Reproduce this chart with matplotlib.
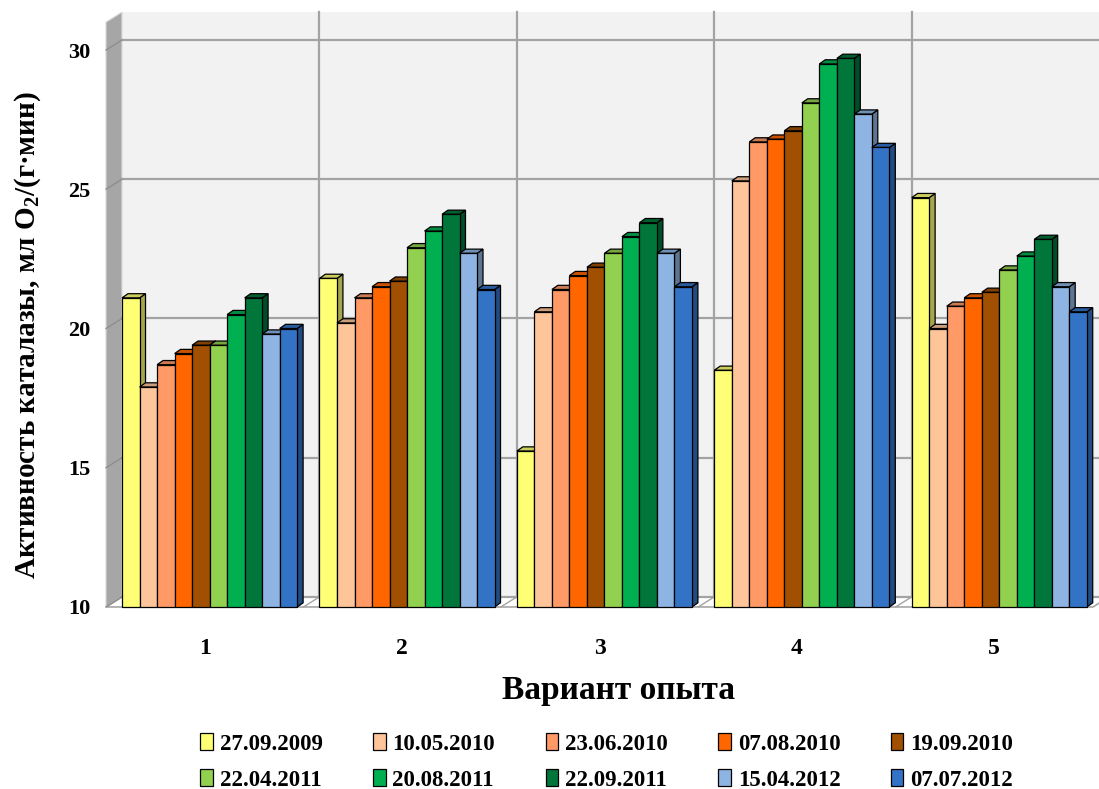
import matplotlib
matplotlib.use("Agg")
import matplotlib.pyplot as plt
from matplotlib.patches import Polygon, Patch
from matplotlib.colors import to_rgb

plt.rcParams['font.family'] = ['Liberation Serif', 'DejaVu Serif']
plt.rcParams['font.weight'] = 'bold'
plt.rcParams['mathtext.default'] = 'regular'

# Catalase activity by experiment variant and sampling date
variants = ['1', '2', '3', '4', '5']
dates = ['27.09.2009', '10.05.2010', '23.06.2010', '07.08.2010', '19.09.2010',
         '22.04.2011', '20.08.2011', '22.09.2011', '15.04.2012', '07.07.2012']
v_27_09_2009 = [21.1, 21.8, 15.6, 18.5, 24.7]
v_10_05_2010 = [17.9, 20.2, 20.6, 25.3, 20.0]
v_23_06_2010 = [18.7, 21.1, 21.4, 26.7, 20.8]
v_07_08_2010 = [19.1, 21.5, 21.9, 26.8, 21.1]
v_19_09_2010 = [19.4, 21.7, 22.2, 27.1, 21.3]
v_22_04_2011 = [19.4, 22.9, 22.7, 28.1, 22.1]
v_20_08_2011 = [20.5, 23.5, 23.3, 29.5, 22.6]
v_22_09_2011 = [21.1, 24.1, 23.8, 29.7, 23.2]
v_15_04_2012 = [19.8, 22.7, 22.7, 27.7, 21.5]
v_07_07_2012 = [20.0, 21.4, 21.5, 26.5, 20.6]
series = [v_27_09_2009, v_10_05_2010, v_23_06_2010, v_07_08_2010, v_19_09_2010,
          v_22_04_2011, v_20_08_2011, v_22_09_2011, v_15_04_2012, v_07_07_2012]
colors = ['#ffff75', '#ffc59a', '#ff9966', '#ff6600', '#a05000',
          '#92d050', '#00b050', '#00763a', '#8db4e2', '#3373c6']

y_ticks = [10, 15, 20, 25, 30]
y_min, y_max, wall_top = 10, 30, 31

# oblique depth offsets (category units, value units)
wall_dx, wall_dy = 0.081, 0.36
bar_dx, bar_dy = 0.030, 0.15
bar_w = 0.0887
group_shift = 0.025


def shade(c, f):
    r, g, b = to_rgb(c)
    return (r * f, g * f, b * f)


fig = plt.figure(figsize=(10.99, 7.89), dpi=100)
ax = fig.add_axes([0.09645, 0.2307, 0.8981, 0.7059])
ax.set_xlim(-0.5, 4.5)
ax.set_ylim(y_min, y_max)
for s in ax.spines.values():
    s.set_visible(False)
ax.patch.set_visible(False)

x_lo, x_hi = -0.5, len(variants) - 0.5

# back wall
ax.add_patch(Polygon([(x_lo + wall_dx, y_min + wall_dy), (x_hi + wall_dx, y_min + wall_dy),
                      (x_hi + wall_dx, wall_top + wall_dy), (x_lo + wall_dx, wall_top + wall_dy)],
                     closed=True, facecolor='#f2f2f2', edgecolor='none', clip_on=False, zorder=0))
# side wall
ax.add_patch(Polygon([(x_lo, y_min), (x_lo + wall_dx, y_min + wall_dy),
                      (x_lo + wall_dx, wall_top + wall_dy), (x_lo, wall_top)],
                     closed=True, facecolor='#a6a6a6', edgecolor='#d9d9d9', linewidth=0.8,
                     clip_on=False, zorder=0.5))
# floor
ax.add_patch(Polygon([(x_lo, y_min), (x_hi, y_min), (x_hi + wall_dx, y_min + wall_dy),
                      (x_lo + wall_dx, y_min + wall_dy)],
                     closed=True, facecolor='white', edgecolor='#a6a6a6', linewidth=1.2,
                     clip_on=False, zorder=0.5))

# gridlines on back and side walls
for t in y_ticks:
    ax.plot([x_lo + wall_dx, x_hi + wall_dx], [t + wall_dy, t + wall_dy],
            color='#a3a3a3', linewidth=1.6, clip_on=False, zorder=1)
    ax.plot([x_lo, x_lo + wall_dx], [t, t + wall_dy],
            color='#8c8c8c', linewidth=0.9, clip_on=False, zorder=1)
for k in range(1, len(variants)):
    xb = x_lo + k
    ax.plot([xb + wall_dx, xb + wall_dx], [y_min + wall_dy, wall_top + wall_dy],
            color='#a3a3a3', linewidth=1.6, clip_on=False, zorder=1)
    ax.plot([xb, xb + wall_dx], [y_min, y_min + wall_dy],
            color='#a3a3a3', linewidth=1.0, clip_on=False, zorder=1)

# 3D columns, drawn left to right so each front face hides the previous side face
z = 2
for g in range(len(variants)):
    left0 = g + group_shift - bar_w * len(series) / 2
    for i, vals in enumerate(series):
        v = vals[g]
        x0 = left0 + i * bar_w
        x1 = x0 + bar_w
        c = colors[i]
        ax.bar(x0, v - y_min, width=bar_w, bottom=y_min, align='edge', color=c,
               edgecolor='black', linewidth=0.9, zorder=z, clip_on=False)
        ax.add_patch(Polygon([(x1, y_min), (x1 + bar_dx, y_min + bar_dy),
                              (x1 + bar_dx, v + bar_dy), (x1, v)],
                             closed=True, facecolor=shade(c, 0.65), edgecolor='black',
                             linewidth=0.9, clip_on=False, zorder=z - 0.5))
        ax.add_patch(Polygon([(x0, v), (x1, v), (x1 + bar_dx, v + bar_dy), (x0 + bar_dx, v + bar_dy)],
                             closed=True, facecolor=shade(c, 0.8), edgecolor='black',
                             linewidth=0.9, clip_on=False, zorder=z - 0.5))
        z += 1

ax.set_yticks(y_ticks)
ax.set_yticklabels([str(t) for t in y_ticks], fontsize=16, fontweight='bold')
ax.set_xticks(range(len(variants)))
ax.set_xticklabels(variants, fontsize=17, fontweight='bold')
ax.tick_params(axis='y', length=0, pad=11)
ax.tick_params(axis='x', length=0, pad=22)

fig.text(619 / 1099, 1 - 690 / 789, 'Вариант опыта', ha='center', va='center',
         fontsize=24, fontweight='bold')
fig.text(28 / 1099, 1 - 335 / 789, 'Активность каталазы, мл O$_2$/(г·мин)',
         rotation=90, ha='center', va='center', fontsize=21, fontweight='bold')

# legend: row-major layout from column-major filling
handles = [Patch(facecolor=c, edgecolor='black', linewidth=0.9) for c in colors]
order = [0, 5, 1, 6, 2, 7, 3, 8, 4, 9]
fig.legend([handles[i] for i in order], [dates[i] for i in order], ncol=5,
           loc='center', bbox_to_anchor=(0.552, 1 - 762 / 789), frameon=False,
           prop={'family': 'Liberation Serif', 'weight': 'bold', 'size': 16.5},
           handlelength=0.55, handleheight=0.75, handletextpad=0.3,
           columnspacing=2.2, labelspacing=0.65)

fig.savefig('out.png', dpi=100)
